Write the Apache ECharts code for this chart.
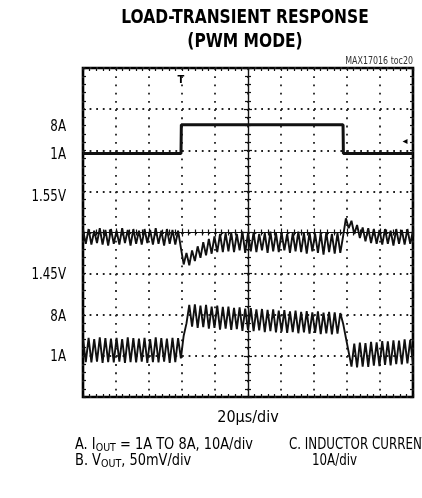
<!DOCTYPE html>
<html>
<head>
<meta charset="utf-8">
<script src="https://cdn.jsdelivr.net/npm/echarts@6/dist/echarts.min.js"></script>
<style>html,body{margin:0;padding:0;background:#fff}#c{width:422px;height:498px}</style>
</head>
<body>
<div id="c"></div>
<script>
// ---- Data ----
// Trace A: output (load) current step, amps vs time (µs)
const ioutTimes = [0, 59.4, 59.6, 157.6, 157.8, 200];
const ioutAmps  = [1, 1, 8, 8, 1, 1];

// Trace B: output voltage samples (V), one sample every 200/118 µs
const voutVolts = [
  1.504,1.487,1.505,1.486,1.503,1.488,1.506,1.486,1.504,1.485,
  1.505,1.487,1.503,1.486,1.506,1.488,1.504,1.485,1.505,1.487,
  1.503,1.486,1.505,1.488,1.504,1.486,1.506,1.487,1.503,1.485,
  1.505,1.487,1.504,1.486,1.503,1.482,1.462,1.476,1.461,1.479,
  1.466,1.484,1.470,1.489,1.473,1.493,1.475,1.496,1.477,1.499,
  1.477,1.500,1.478,1.501,1.477,1.499,1.479,1.502,1.476,1.500,
  1.478,1.501,1.477,1.499,1.479,1.500,1.476,1.502,1.478,1.500,
  1.477,1.501,1.479,1.499,1.476,1.500,1.478,1.502,1.477,1.500,
  1.475,1.501,1.478,1.499,1.476,1.500,1.474,1.501,1.477,1.499,
  1.475,1.500,1.476,1.496,1.518,1.506,1.515,1.499,1.510,1.494,
  1.507,1.490,1.506,1.488,1.505,1.487,1.504,1.486,1.505,1.487,
  1.503,1.485,1.505,1.487,1.504,1.486,1.505,1.487,1.503
];

// Trace C: inductor current samples (A), same sampling
const inductorAmps = [
  3.8,-1.9,4.0,-2.0,3.7,-1.8,4.1,-2.1,3.9,-1.9,
  3.8,-2.0,4.0,-1.8,3.7,-2.1,4.1,-1.9,3.9,-2.0,
  3.8,-1.8,4.0,-2.1,3.7,-1.9,4.1,-2.0,3.9,-1.8,
  3.8,-2.1,4.0,-1.9,3.9,-1.0,4.5,7.5,12.0,6.7,
  12.1,6.4,11.8,6.6,12.0,6.2,11.6,6.4,11.8,6.0,
  11.5,6.2,11.6,5.9,11.3,6.1,11.4,5.7,11.1,5.9,
  11.2,5.6,10.9,5.8,11.0,5.4,10.8,5.6,10.9,5.3,
  10.6,5.5,10.7,5.2,10.4,5.4,10.6,5.1,10.3,5.3,
  10.5,5.0,10.2,5.2,10.4,4.9,10.1,5.1,10.3,4.8,
  10.2,5.0,10.0,7.5,4.0,0.5,-3.0,2.6,-3.2,2.8,
  -3.0,2.7,-3.1,3.0,-2.8,2.9,-2.9,3.2,-2.6,3.1,
  -2.7,3.4,-2.4,3.3,-2.5,3.6,-2.2,3.5,-2.3
];

const sweepUs = 200;              // 10 div x 20µs/div
const leftLabels = ['8A', '1A', '1.55V', '1.45V', '8A', '1A'];
const leftLabelY = [127, 155, 197, 275, 317, 357];

// ---- build ----
const sampleTimes = voutVolts.map((_, i) => i * sweepUs / (voutVolts.length - 1));
const ioutData = ioutTimes.map((t, i) => [t, ioutAmps[i]]);
const voutData = voutVolts.map((v, i) => [sampleTimes[i], v]);
const ilData = inductorAmps.map((v, i) => [sampleTimes[i], v]);

const FONT = "'Liberation Sans Narrow','DejaVu Sans Condensed','Liberation Sans',sans-serif";
const INK = '#111';
const NARROW = 0.88;

function divAxisX(inside, withSplit) {
  return {
    type: 'value', min: -5, max: 5, interval: 1, position: 'bottom',
    axisLine: { show: true, onZero: true, onZeroAxisIndex: 0, lineStyle: { color: INK, width: 1.2 } },
    axisTick: { show: true, inside: inside, length: 4, lineStyle: { color: INK, width: 1.2 } },
    minorTick: { show: true, splitNumber: 5, length: 3, lineStyle: { color: INK, width: 1.2 } },
    axisLabel: { show: false },
    splitLine: { show: withSplit, lineStyle: { color: '#222', width: 1.8, type: [1.8, 6.425] } },
    minorSplitLine: { show: false }
  };
}
function divAxisY(inside, withSplit) {
  return {
    type: 'value', min: -4, max: 4, interval: 1, position: 'left',
    axisLine: { show: true, onZero: true, onZeroAxisIndex: 0, lineStyle: { color: INK, width: 1.2 } },
    axisTick: { show: true, inside: inside, length: 4, lineStyle: { color: INK, width: 1.2 } },
    minorTick: { show: true, splitNumber: 5, length: 3, lineStyle: { color: INK, width: 1.2 } },
    axisLabel: { show: false },
    splitLine: { show: withSplit, lineStyle: { color: '#222', width: 1.8, type: [1.8, 4.8] } },
    minorSplitLine: { show: false }
  };
}
function frameAxis(pos, min, max) {
  return {
    type: 'value', min: min, max: max, interval: 1, position: pos,
    axisLine: { show: false, onZero: false },
    axisTick: { show: true, inside: true, length: 3, lineStyle: { color: INK, width: 1.2 } },
    minorTick: { show: true, splitNumber: 5, length: 3, lineStyle: { color: INK, width: 1.2 } },
    axisLabel: { show: false }, splitLine: { show: false }
  };
}
function hiddenAxis(min, max) {
  return { type: 'value', min: min, max: max, show: false, axisLine: { onZero: false }, splitLine: { show: false } };
}
function txt(x, y, text, size, align, sx) {
  return { type: 'text', x: x, y: y, scaleX: sx || NARROW,
    style: { text: text, fill: '#000', fontFamily: FONT, fontSize: size, textAlign: align, textVerticalAlign: 'middle' } };
}
const richStyles = { a: { fontFamily: FONT, fontSize: 15, color: '#000' }, s: { fontFamily: FONT, fontSize: 11, color: '#000', padding: [7, 0, 0, 0] } };

const graphics = [
  { type: 'text', x: 245, y: 18, scaleX: 0.86, style: { text: 'LOAD-TRANSIENT RESPONSE', fill: '#000', fontFamily: FONT, fontWeight: 'bold', fontSize: 20, textAlign: 'center', textVerticalAlign: 'middle' } },
  { type: 'text', x: 245, y: 42, scaleX: 0.86, style: { text: '(PWM MODE)', fill: '#000', fontFamily: FONT, fontWeight: 'bold', fontSize: 20, textAlign: 'center', textVerticalAlign: 'middle' } },
  { type: 'text', x: 413, y: 61, scaleX: NARROW, style: { text: 'MAX17016 toc20', fill: '#333', fontFamily: FONT, fontSize: 10, textAlign: 'right', textVerticalAlign: 'middle' } },
  txt(248, 418, '20\u00b5s/div', 16, 'center', 1.0),
  { type: 'text', x: 75, y: 445, scaleX: 0.96, style: { text: '{a|A. I}{s|OUT}{a| = 1A TO 8A, 10A/div}', textVerticalAlign: 'middle', rich: richStyles } },
  { type: 'text', x: 75, y: 461, scaleX: 0.96, style: { text: '{a|B. V}{s|OUT}{a|, 50mV/div}', textVerticalAlign: 'middle', rich: richStyles } },
  txt(289, 445, 'C. INDUCTOR CURRENT,', 15, 'left'),
  txt(312, 461, '10A/div', 15, 'left'),
  { type: 'text', x: 181, y: 80, style: { text: 'T', fill: '#000', fontFamily: FONT, fontWeight: 'bold', fontSize: 11, textAlign: 'center', textVerticalAlign: 'middle' } },
  { type: 'text', x: 405, y: 141, style: { text: '\u25c2', fill: '#000', fontFamily: 'DejaVu Sans', fontSize: 10, textAlign: 'center', textVerticalAlign: 'middle' } }
];
leftLabels.forEach((t, i) => graphics.push(txt(66, leftLabelY[i], t, 15, 'right')));

const chart = echarts.init(document.getElementById('c'), null, { renderer: 'canvas' });
chart.setOption({
  animation: false,
  backgroundColor: '#fff',
  grid: { left: 83, right: 9, top: 68, bottom: 101, show: true, borderColor: '#000', borderWidth: 2.6, backgroundColor: 'transparent' },
  xAxis: [
    divAxisX(true, true),
    divAxisX(false, false),
    frameAxis('top', -5, 5),
    frameAxis('bottom', -5, 5),
    hiddenAxis(0, sweepUs)
  ],
  yAxis: [
    divAxisY(true, true),
    divAxisY(false, false),
    frameAxis('left', -4, 4),
    frameAxis('right', -4, 4),
    hiddenAxis(-58.2, 21.8),     // IOUT, 10A/div
    hiddenAxis(1.3008, 1.7008),  // VOUT, 50mV/div
    hiddenAxis(-10.4, 69.6)      // inductor current, 10A/div
  ],
  series: [
    { type: 'line', xAxisIndex: 4, yAxisIndex: 4, data: ioutData, showSymbol: false, lineStyle: { color: INK, width: 3 }, z: 5 },
    { type: 'line', xAxisIndex: 4, yAxisIndex: 5, data: voutData, showSymbol: false, lineStyle: { color: INK, width: 1.9 }, z: 5 },
    { type: 'line', xAxisIndex: 4, yAxisIndex: 6, data: ilData, showSymbol: false, lineStyle: { color: INK, width: 1.9 }, z: 5 }
  ],
  graphic: graphics
});
</script>
</body>
</html>
